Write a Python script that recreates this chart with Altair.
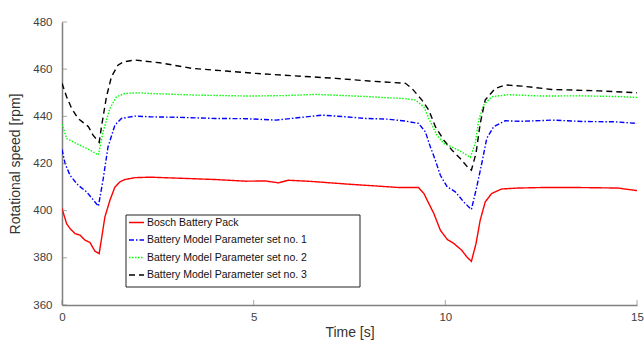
import altair as alt
import pandas as pd

# ---------------- data ----------------
series_names = [
    "Bosch Battery Pack",
    "Battery Model Parameter set no. 1",
    "Battery Model Parameter set no. 2",
    "Battery Model Parameter set no. 3",
]
series_colors = ["#ff0000", "#0000ff", "#00ff00", "#000000"]
series_dashes = [[1, 0], [5, 2, 1.5, 2], [1.5, 1.5], [6, 4]]

t_bosch = [0, 0.12, 0.21, 0.34, 0.47, 0.6, 0.73, 0.86, 0.97, 1.12, 1.25, 1.38, 1.51,
           1.64, 1.9, 2.3, 3.0, 4.0, 4.8, 5.3, 5.65, 5.9, 6.5, 7.5, 8.35, 8.8, 9.3,
           9.44, 9.57, 9.7, 9.87, 10.05, 10.22, 10.43, 10.56, 10.68, 10.8, 10.91,
           11.04, 11.21, 11.47, 11.9, 12.5, 13.5, 14.5, 15]
v_bosch = [400.9, 394.5, 392.4, 390.3, 389.6, 387.5, 386.5, 382.8, 381.8, 397.4, 404.4,
           410.0, 412.2, 413.2, 414.0, 414.2, 413.8, 413.2, 412.5, 412.6, 411.8, 412.9,
           412.4, 411.2, 410.3, 409.8, 409.8, 407.3, 403.0, 398.8, 391.7, 387.8, 386.1,
           383.2, 380.4, 378.5, 386.0, 396.0, 403.7, 407.3, 409.2, 409.6, 409.8, 409.8,
           409.6, 408.5]

t_set1 = [0, 0.08, 0.21, 0.42, 0.64, 0.81, 0.95, 1.07, 1.2, 1.38, 1.55, 1.9, 2.3, 3.0,
          4.0, 4.8, 5.58, 6.2, 6.8, 7.4, 7.92, 8.5, 8.96, 9.3, 9.48, 9.61, 9.74, 9.87,
          10.05, 10.26, 10.48, 10.68, 10.82, 10.95, 11.08, 11.26, 11.56, 12.0, 12.8,
          13.6, 14.4, 15]
v_set1 = [426.0, 420.0, 415.0, 410.8, 408.0, 404.7, 401.9, 413.0, 427.0, 436.3, 439.1,
          440.1, 439.8, 439.6, 439.1, 439.0, 438.4, 439.5, 440.5, 439.8, 439.1, 438.8,
          438.0, 437.0, 433.4, 427.0, 421.4, 415.0, 410.1, 408.0, 403.7, 400.5, 410.1,
          420.0, 430.6, 435.6, 438.1, 437.9, 438.4, 437.8, 437.7, 437.0]

t_set2 = [0, 0.12, 0.29, 0.51, 0.73, 0.95, 1.07, 1.25, 1.42, 1.64, 2.0, 2.29, 3.5, 4.89,
          5.8, 6.62, 7.8, 8.96, 9.22, 9.44, 9.61, 9.78, 9.96, 10.17, 10.43, 10.65, 10.78,
          10.87, 11.0, 11.21, 11.65, 12.5, 13.5, 14.5, 15]
v_set2 = [436.7, 430.6, 429.2, 427.4, 425.7, 423.6, 433.4, 443.4, 448.3, 449.7, 450.0,
          449.7, 449.0, 448.6, 448.8, 449.3, 448.5, 447.5, 446.9, 444.0, 437.7, 432.0,
          428.5, 427.0, 424.9, 422.6, 428.5, 438.4, 444.8, 448.3, 449.2, 448.6, 448.7,
          448.4, 448.0]

t_set3 = [0, 0.12, 0.25, 0.42, 0.69, 0.81, 0.97, 1.03, 1.16, 1.29, 1.46, 1.6, 1.9, 2.55,
          3.41, 4.28, 5.06, 5.75, 7.14, 8.0, 8.96, 9.13, 9.39, 9.57, 9.74, 9.96, 10.17,
          10.39, 10.61, 10.68, 10.8, 10.91, 11.04, 11.3, 11.56, 12.0, 12.77, 14.0, 15]
v_set3 = [454.0, 448.3, 443.4, 439.1, 435.6, 432.0, 429.0, 435.6, 448.3, 456.8, 461.7,
          463.1, 463.9, 462.7, 460.3, 459.2, 458.2, 457.5, 456.1, 455.0, 454.0, 451.8,
          446.9, 442.6, 435.6, 429.9, 425.7, 422.1, 417.9, 417.2, 424.3, 437.0, 446.9,
          451.8, 453.3, 452.8, 451.4, 450.8, 450.0]

x_ticks = [0, 5, 10, 15]
y_ticks = [360, 380, 400, 420, 440, 460, 480]

# ---------------- build table ----------------
rows = []
for name, ts, vs in zip(series_names,
                        [t_bosch, t_set1, t_set2, t_set3],
                        [v_bosch, v_set1, v_set2, v_set3]):
    for i, (t, v) in enumerate(zip(ts, vs)):
        rows.append({"series": name, "t": t, "v": v, "order": i})
df = pd.DataFrame(rows)

W, H = 575, 283
FONT = "Liberation Sans"
AXIS_GRAY = "#808080"

xscale = alt.Scale(domain=[0, 15], nice=False, zero=False)
yscale = alt.Scale(domain=[360, 480], nice=False, zero=False)
x_axis = alt.Axis(values=x_ticks, title="Time [s]", format="d", labelFlush=False)
y_axis = alt.Axis(values=y_ticks, title="Rotational speed [rpm]", format="d")

lines = alt.Chart(df).mark_line(strokeWidth=1.4, clip=True).encode(
    x=alt.X("t:Q", scale=xscale, axis=x_axis),
    y=alt.Y("v:Q", scale=yscale, axis=y_axis),
    color=alt.Color("series:N", title=None, sort=series_names,
                    scale=alt.Scale(domain=series_names, range=series_colors)),
    strokeDash=alt.StrokeDash("series:N", title=None, sort=series_names,
                              scale=alt.Scale(domain=series_names, range=series_dashes)),
    order=alt.Order("order:Q"),
)

legend_box = alt.Chart(alt.Data(values=[{}])).mark_rect(
    fill="white", stroke="#222222", strokeWidth=1
).encode(
    x=alt.value(64), x2=alt.value(298), y=alt.value(193), y2=alt.value(265)
)

xtick_marks = alt.Chart(pd.DataFrame({"t": x_ticks})).mark_tick(
    orient="vertical", size=5, thickness=1, color=AXIS_GRAY
).encode(
    x=alt.X("t:Q", scale=xscale, axis=x_axis),
    y=alt.value(H - 2.5),
)

ytick_marks = alt.Chart(pd.DataFrame({"v": y_ticks})).mark_tick(
    orient="horizontal", size=5, thickness=1, color=AXIS_GRAY
).encode(
    y=alt.Y("v:Q", scale=yscale, axis=y_axis),
    x=alt.value(2.5),
)

chart = alt.layer(lines, legend_box, xtick_marks, ytick_marks).properties(
    width=W, height=H,
    autosize=alt.AutoSizeParams(type="none"),
    padding={"left": 62, "top": 22, "right": 7, "bottom": 38},
    background="white",
).configure_view(
    stroke=None
).configure_axis(
    grid=False,
    ticks=False,
    tickSize=0,
    domainColor=AXIS_GRAY,
    domainWidth=1.5,
    labelFont=FONT,
    labelFontSize=11.5,
    labelColor="#404040",
    titleFont=FONT,
    titleFontSize=14,
    titleFontWeight="normal",
    titleColor="#333333",
).configure_axisY(
    labelPadding=10,
    titlePadding=10,
).configure_axisX(
    labelPadding=6,
    titlePadding=3,
).configure_legend(
    orient="none",
    legendX=66,
    legendY=192,
    padding=0,
    symbolType="stroke",
    symbolSize=225,
    symbolStrokeWidth=1.5,
    labelFont=FONT,
    labelFontSize=10.5,
    labelColor="#111111",
    labelLimit=400,
    labelOffset=2,
    rowPadding=3.5,
)

chart.save("out.html", embed_options={"renderer": "svg", "actions": False})
